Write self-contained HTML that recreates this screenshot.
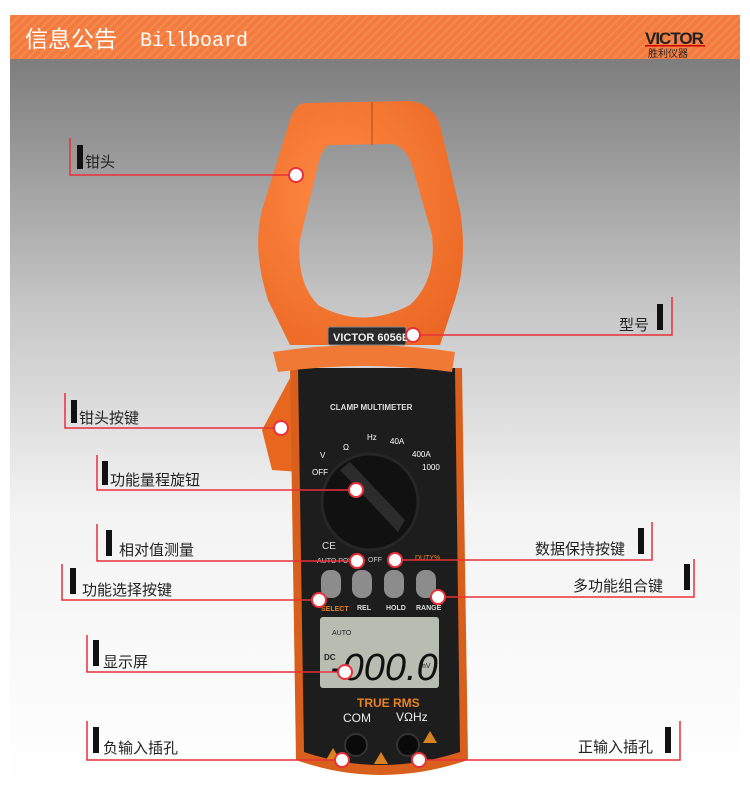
<!DOCTYPE html>
<html><head><meta charset="utf-8"><style>
html,body{margin:0;padding:0;background:#fff;}
svg{display:block}
text{font-family:"Liberation Sans","Noto Sans CJK SC",sans-serif;}
.lb{font-size:15px;fill:#222;}
</style></head><body>
<svg width="750" height="787" viewBox="0 0 750 787" xmlns="http://www.w3.org/2000/svg">
<defs>
<linearGradient id="bg" x1="0" y1="0" x2="0" y2="1">
<stop offset="0" stop-color="#7d7d7d"/><stop offset="0.35" stop-color="#c8c8c8"/><stop offset="0.62" stop-color="#f3f3f3"/><stop offset="1" stop-color="#fff"/>
</linearGradient>
<pattern id="st" width="6" height="6" patternUnits="userSpaceOnUse" patternTransform="rotate(45)"><rect width="6" height="6" fill="#f47b3e"/><rect width="2" height="6" fill="#f58a50"/></pattern>
<radialGradient id="or" cx="0.4" cy="0.4" r="0.8"><stop offset="0" stop-color="#ff8a45"/><stop offset="1" stop-color="#e8641f"/></radialGradient>
</defs>
<rect x="10" y="59" width="730" height="728" fill="url(#bg)"/>
<rect x="10" y="15" width="730" height="44" fill="url(#st)"/>
<text x="25" y="47" font-size="23" fill="#fff">信息公告</text>
<text x="140" y="46" font-size="20" fill="#fff" style="font-family:'Liberation Mono',monospace">Billboard</text>
<text x="645" y="44" font-size="17" font-weight="bold" fill="#222" letter-spacing="-1">VICTOR</text>
<rect x="645" y="45" width="60" height="1.5" fill="#c00"/>
<text x="648" y="57" font-size="10" fill="#222">胜利仪器</text>

<path d="M290 378 L262 430 L272 470 L300 472 Z" fill="#e8671f"/>
<path d="M290 368 L462 368 L468 760 Q380 790 296 760 Z" fill="#d8601c"/>
<path d="M298 368 L455 368 L460 752 Q380 778 304 752 Z" fill="#1d1d1d"/>
<path fill-rule="evenodd" fill="url(#or)" d="M305 103 L410 101 Q432 103 440 125 L460 210 Q468 260 455 300 L440 345 L290 345 L268 300 Q252 250 262 210 L290 120 Q295 104 305 103 Z
M330 145 L392 144 Q405 146 412 165 L432 235 Q437 280 410 305 Q362 330 318 305 Q296 282 300 240 L318 165 Q322 147 330 145 Z"/>
<line x1="372" y1="102" x2="372" y2="145" stroke="#b24a12" stroke-width="1"/>
<path d="M273 352 Q365 338 455 352 L452 372 Q365 360 278 372 Z" fill="#f07a35"/>
<rect x="328" y="327" width="78" height="18" rx="2" fill="#2a2a2a" stroke="#888"/>
<text x="333" y="341" font-size="11" font-weight="bold" fill="#eee">VICTOR 6056E</text>

<text x="330" y="410" font-size="8" fill="#ddd" font-weight="bold">CLAMP  MULTIMETER</text>
<text x="312" y="475" font-size="8" fill="#fff">OFF</text>
<text x="320" y="458" font-size="8" fill="#fff">V</text>
<text x="343" y="450" font-size="8" fill="#fff">Ω</text>
<text x="367" y="440" font-size="8" fill="#fff">Hz</text>
<text x="390" y="444" font-size="8" fill="#fff">40A</text>
<text x="412" y="457" font-size="8" fill="#fff">400A</text>
<text x="422" y="470" font-size="8" fill="#fff">1000</text>
<circle cx="370" cy="502" r="48" fill="#111" stroke="#262626" stroke-width="3"/>
<path d="M340 470 L350 462 L405 520 L398 532 Z" fill="#2c2c2c"/>
<text x="322" y="549" font-size="10" fill="#ddd">CE</text>
<text x="317" y="563" font-size="7" fill="#ccc">AUTO POWER</text>
<text x="368" y="562" font-size="7" fill="#ccc">OFF</text>
<text x="415" y="560" font-size="7" fill="#e8841f">DUTY%</text>
<rect x="321" y="570" width="20" height="28" rx="9" fill="#8c8c8c"/>
<rect x="352" y="570" width="20" height="28" rx="9" fill="#8c8c8c"/>
<rect x="384" y="570" width="20" height="28" rx="9" fill="#8c8c8c"/>
<rect x="416" y="570" width="20" height="28" rx="9" fill="#8c8c8c"/>
<text x="321" y="611" font-size="7" fill="#e8841f" font-weight="bold">SELECT</text>
<text x="357" y="610" font-size="7" fill="#ddd" font-weight="bold">REL</text>
<text x="386" y="610" font-size="7" fill="#ddd" font-weight="bold">HOLD</text>
<text x="416" y="610" font-size="7" fill="#ddd" font-weight="bold">RANGE</text>
<rect x="320" y="617" width="119" height="71" rx="3" fill="#b9bcb0"/>
<text x="332" y="635" font-size="7" fill="#222">AUTO</text>
<text x="324" y="660" font-size="8" fill="#222" font-weight="bold">DC</text>
<text x="330" y="680" font-size="38" fill="#111" font-style="italic">-000.0</text>
<text x="420" y="668" font-size="7" fill="#222">mV</text>
<text x="357" y="707" font-size="12" font-weight="bold" fill="#e8841f">TRUE RMS</text>
<text x="343" y="722" font-size="12" fill="#eee">COM</text>
<text x="396" y="721" font-size="12" fill="#eee">VΩHz</text>
<circle cx="356" cy="745" r="11" fill="#0a0a0a" stroke="#333" stroke-width="2"/>
<circle cx="408" cy="745" r="11" fill="#0a0a0a" stroke="#333" stroke-width="2"/>
<polygon points="333,748 326,760 340,760" fill="#d9811f"/>
<polygon points="430,731 423,743 437,743" fill="#d9811f"/>
<polygon points="381,752 374,764 388,764" fill="#d9811f"/>

<g stroke="#e8303a" stroke-width="1.5" fill="none">
<polyline points="70,138 70,175 296,175"/>
<polyline points="672,297 672,335 413,335"/>
<polyline points="65,393 65,428 281,428"/>
<polyline points="97,455 97,490 356,490"/>
<polyline points="97,524 97,561 357,561"/>
<polyline points="652,522 652,560 395,560"/>
<polyline points="62,564 62,600 319,600"/>
<polyline points="694,559 694,597 438,597"/>
<polyline points="87,635 87,672 345,672"/>
<polyline points="87,721 87,760 342,760"/>
<polyline points="680,721 680,760 419,760"/>
</g>
<g fill="#fff" stroke="#e8303a" stroke-width="2">
<circle cx="296" cy="175" r="7"/><circle cx="413" cy="335" r="7"/><circle cx="281" cy="428" r="7"/>
<circle cx="356" cy="490" r="7"/><circle cx="357" cy="561" r="7"/><circle cx="395" cy="560" r="7"/>
<circle cx="319" cy="600" r="7"/><circle cx="438" cy="597" r="7"/><circle cx="345" cy="672" r="7"/>
<circle cx="342" cy="760" r="7"/><circle cx="419" cy="760" r="7"/>
</g>
<g fill="#111">
<rect x="77" y="145" width="6" height="24"/><rect x="657" y="304" width="6" height="26"/>
<rect x="71" y="400" width="6" height="23"/><rect x="102" y="461" width="6" height="24"/>
<rect x="106" y="530" width="6" height="26"/><rect x="638" y="528" width="6" height="26"/>
<rect x="70" y="568" width="6" height="26"/><rect x="684" y="564" width="6" height="26"/>
<rect x="93" y="640" width="6" height="26"/><rect x="93" y="727" width="6" height="26"/>
<rect x="665" y="727" width="6" height="26"/>
</g>
<text class="lb" x="85" y="167">钳头</text>
<text class="lb" x="619" y="330">型号</text>
<text class="lb" x="79" y="423">钳头按键</text>
<text class="lb" x="110" y="485">功能量程旋钮</text>
<text class="lb" x="119" y="555">相对值测量</text>
<text class="lb" x="535" y="554">数据保持按键</text>
<text class="lb" x="82" y="595">功能选择按键</text>
<text class="lb" x="573" y="591">多功能组合键</text>
<text class="lb" x="103" y="667">显示屏</text>
<text class="lb" x="103" y="753">负输入插孔</text>
<text class="lb" x="578" y="752">正输入插孔</text>
</svg>
</body></html>
